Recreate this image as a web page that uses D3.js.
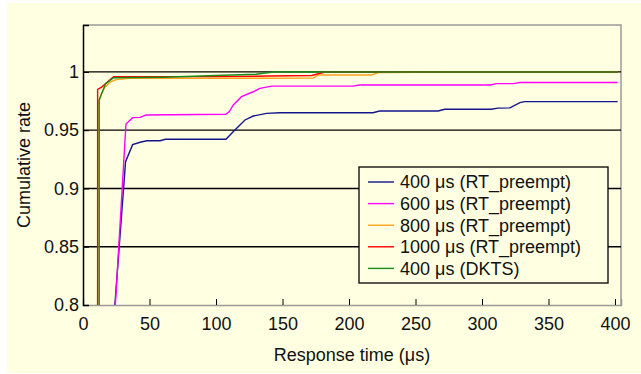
<!DOCTYPE html>
<html>
<head>
<meta charset="utf-8">
<script src="https://cdnjs.cloudflare.com/ajax/libs/d3/7.8.5/d3.min.js"></script>
<style>
  body { margin: 0; background: #ffffff; }
  text { font-family: "Liberation Sans", Arial, sans-serif; fill: #111; }
</style>
</head>
<body>
<div id="chart"></div>
<script>
// series data: [response time (us), cumulative rate]
var rt400 = [[23.3,0.79],[32,0.923],[37.3,0.9376],[43,0.9397],[48,0.941],[58,0.941],[62,0.9422],[107.5,0.9422],[114,0.9500],[121.8,0.9588],[128,0.9622],[138,0.9645],[148,0.965],[218,0.965],[223,0.9665],[267,0.9665],[272,0.968],[307,0.968],[312,0.969],[321,0.9692],[328.5,0.9737],[332,0.9745],[402,0.9745]];
var rt600 = [[23.8,0.79],[32.3,0.9553],[37.3,0.9608],[43,0.961],[47.4,0.963],[107.3,0.9637],[110,0.966],[113,0.9717],[119.2,0.9788],[128,0.983],[133,0.9859],[142,0.9878],[203,0.9878],[208,0.9888],[306,0.9888],[311,0.99],[323.5,0.99],[328.5,0.991],[402,0.991]];
var rt800 = [[11,0.79],[11.3,0.972],[13,0.979],[16,0.986],[20,0.991],[25,0.9935],[35,0.9945],[173,0.9947],[177,0.9974],[217,0.9974],[222,0.9994],[278,1.0],[402,1.0]];
var rt1000 = [[11,0.79],[11,0.985],[14,0.987],[23,0.996],[100,0.996],[140,0.9965],[172,0.997],[182,1.0],[402,1.0]];
var dkts400 = [[12.2,0.79],[12.2,0.976],[17,0.99],[23,0.995],[60,0.9955],[100,0.997],[130,0.998],[143,1.0],[402,1.0]];

var seriesNames = ["400 μs (RT_preempt)", "600 μs (RT_preempt)", "800 μs (RT_preempt)", "1000 μs (RT_preempt)", "400 μs (DKTS)"];
var seriesColors = ["#14148c", "#ff00ff", "#ffa31a", "#ff0000", "#1a8a1a"];
var seriesData = [rt400, rt600, rt800, rt1000, dkts400];

var xTicks = [0, 50, 100, 150, 200, 250, 300, 350, 400];
var yTicks = [0.8, 0.85, 0.9, 0.95, 1];

(function() {
  var W = 641, H = 374;
  var pl = 83, pr = 621, pt = 25, pb = 305;

  var svg = d3.select("#chart").append("svg")
    .attr("width", W)
    .attr("height", H);

  // background panel
  svg.append("rect")
    .attr("x", 7).attr("y", 3)
    .attr("width", W - 7).attr("height", 370)
    .attr("fill", "#ffffe1");

  var x = d3.scaleLinear().domain([0, 404.5]).range([pl, pr]);
  var y = d3.scaleLinear().domain([0.8, 1.0403]).range([pb, pt]);

  // frame (top and right in gray)
  svg.append("path")
    .attr("d", "M" + pl + "," + pt + "H" + pr + "V" + pb)
    .attr("fill", "none")
    .attr("stroke", "#9a9a9a")
    .attr("stroke-width", 1.5);

  // gridlines
  svg.append("g").selectAll("line")
    .data(yTicks.slice(1))
    .enter().append("line")
    .attr("x1", pl).attr("x2", pr)
    .attr("y1", function(d) { return y(d); })
    .attr("y2", function(d) { return y(d); })
    .attr("stroke", "#000")
    .attr("stroke-width", 1.3);

  // x axis
  var xAxis = svg.append("g")
    .attr("transform", "translate(0," + pb + ")")
    .call(d3.axisBottom(x).tickValues(xTicks).tickSize(-6).tickPadding(12).tickFormat(d3.format("d")));
  xAxis.select(".domain").attr("stroke", "#9a9a9a").attr("stroke-width", 1.5);
  xAxis.selectAll(".tick line").attr("stroke", "#000");
  xAxis.selectAll("text").style("font-size", "18px").attr("fill", "#111");

  // y axis
  var yAxis = svg.append("g")
    .attr("transform", "translate(" + pl + ",0)")
    .call(d3.axisLeft(y).tickValues(yTicks).tickSize(-6).tickPadding(4).tickFormat(function(d) { return String(+d.toFixed(2)); }));
  yAxis.select(".domain").attr("stroke", "#000").attr("stroke-width", 1.5);
  yAxis.selectAll(".tick line").attr("stroke", "#000");
  yAxis.selectAll("text").style("font-size", "18px").attr("fill", "#111");

  // clip for lines
  svg.append("clipPath").attr("id", "clip")
    .append("rect")
    .attr("x", pl).attr("y", pt)
    .attr("width", pr - pl).attr("height", pb - pt);

  var line = d3.line()
    .x(function(d) { return x(d[0]); })
    .y(function(d) { return y(d[1]); });

  svg.append("g").attr("clip-path", "url(#clip)")
    .selectAll("path")
    .data(seriesData)
    .enter().append("path")
    .attr("d", line)
    .attr("fill", "none")
    .attr("stroke", function(d, i) { return seriesColors[i]; })
    .attr("stroke-width", 1.4);

  // axis titles
  svg.append("text")
    .attr("x", 352).attr("y", 361)
    .attr("text-anchor", "middle")
    .style("font-size", "18px")
    .text("Response time (μs)");

  svg.append("text")
    .attr("transform", "translate(30,165) rotate(-90)")
    .attr("text-anchor", "middle")
    .style("font-size", "18px")
    .text("Cumulative rate");

  // legend
  var legend = svg.append("g");
  legend.append("rect")
    .attr("x", 359).attr("y", 167)
    .attr("width", 249).attr("height", 116)
    .attr("fill", "#ffffe1")
    .attr("stroke", "#000")
    .attr("stroke-width", 1.3);

  var items = legend.selectAll(".item")
    .data(seriesNames)
    .enter().append("g")
    .attr("class", "item")
    .attr("transform", function(d, i) { return "translate(0," + (182 + i * 21.6) + ")"; });

  items.append("line")
    .attr("x1", 368).attr("x2", 394)
    .attr("stroke", function(d, i) { return seriesColors[i]; })
    .attr("stroke-width", 1.4);

  items.append("text")
    .attr("x", 400)
    .attr("dy", "0.35em")
    .style("font-size", "18px")
    .text(function(d) { return d; });
})();
</script>
</body>
</html>
